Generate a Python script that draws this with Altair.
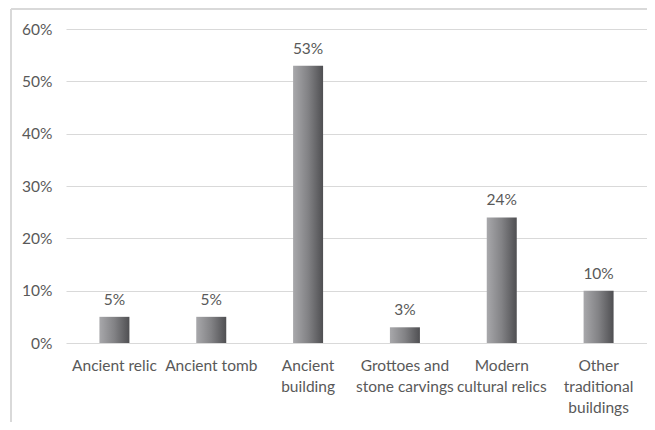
import altair as alt
import pandas as pd

categories = ["Ancient relic", "Ancient tomb", "Ancient|building", "Grottoes and|stone carvings",
              "Modern|cultural relics", "Other|traditional|buildings"]
values = [0.05, 0.05, 0.53, 0.03, 0.24, 0.10]
labels = ["5%", "5%", "53%", "3%", "24%", "10%"]

df = pd.DataFrame({"cat": categories, "val": values, "lab": labels})

W, H = 581, 314
FONT = "Lato"
GRAY = "#595959"
FS = 15.5

x = alt.X("cat:N", sort=categories, title=None,
          scale=alt.Scale(paddingInner=0.69, paddingOuter=0.345),
          axis=alt.Axis(labelAngle=0, labelExpr="split(datum.label, '|')",
                        labelLineHeight=21, labelPadding=22, ticks=False,
                        domain=False, labelFontSize=FS, labelColor=GRAY,
                        labelFont=FONT, labelBaseline="middle"))
y = alt.Y("val:Q", title=None,
          scale=alt.Scale(domain=[0, 0.6]),
          axis=alt.Axis(format=".0%", values=[0, 0.1, 0.2, 0.3, 0.4, 0.5, 0.6],
                        domain=False, ticks=False, labelPadding=14,
                        labelFontSize=FS, labelColor=GRAY, labelFont=FONT,
                        gridColor="#d9d9d9", gridWidth=1))

grad = alt.Gradient(gradient="linear",
                    stops=[alt.GradientStop(color="#a8a8ab", offset=0),
                           alt.GradientStop(color="#828285", offset=0.5),
                           alt.GradientStop(color="#4f4f52", offset=1)],
                    x1=0, x2=1, y1=0, y2=0)

bars = alt.Chart(df).mark_bar(color=grad, size=30).encode(x=x, y=y)
text = alt.Chart(df).mark_text(dy=-12, baseline="alphabetic", fontSize=FS,
                               color=GRAY, font=FONT).encode(
    x=alt.X("cat:N", sort=categories), y="val:Q", text="lab:N")

frame_df = pd.DataFrame({"k": [1]})
top_rule = alt.Chart(frame_df).mark_rule(color="#d9d9d9", strokeWidth=2).encode(
    x=alt.value(-55), x2=alt.value(W + 20), y=alt.value(-20))
left_rule = alt.Chart(frame_df).mark_rule(color="#d9d9d9", strokeWidth=2).encode(
    x=alt.value(-55), y=alt.value(-20), y2=alt.value(H + 120))

chart = alt.layer(top_rule, left_rule, bars, text).properties(
    width=W, height=H,
    padding={"left": 58, "top": 21, "right": 0, "bottom": 79},
    autosize=alt.AutoSizeParams(type="none"),
).configure_view(stroke=None)

chart.save("out.html", embed_options={"renderer": "svg", "actions": False})
